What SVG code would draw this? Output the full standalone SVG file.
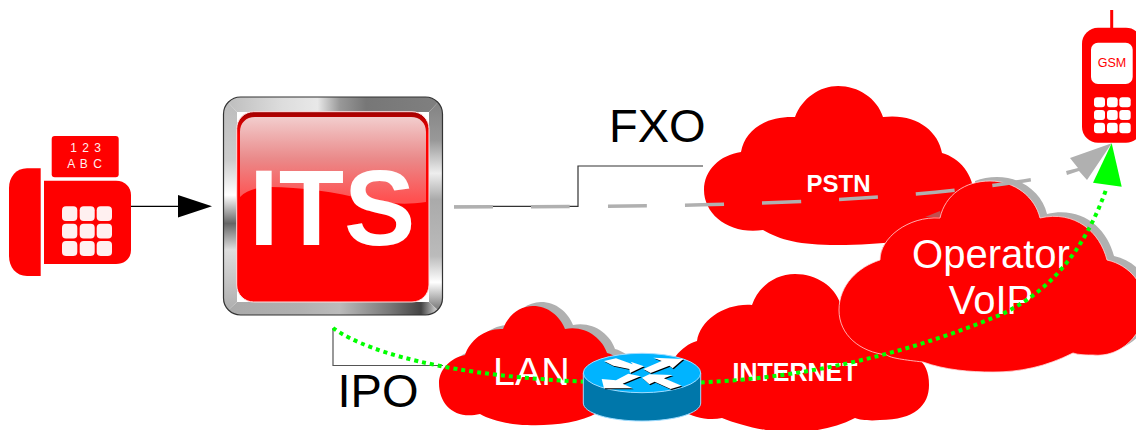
<svg xmlns="http://www.w3.org/2000/svg" xmlns:xlink="http://www.w3.org/1999/xlink" width="1136" height="430" viewBox="0 0 1136 430">
<style>
text{font-family:"Liberation Sans",Arial,sans-serif}
.red{fill:#ff0000}
.shadow{fill:#b0b0b0}
.wt{fill:#ffffff}
.bk{fill:#000000}
.key{fill:#fff0f0}
.thin{fill:none;stroke:#333333;stroke-width:1.2}
</style>
<defs>
<path id="lanShape" d="M439 383C439 370 450 358 465 355C470 340 485 328 503 329C508 315 520 306 533 306C548 306 560 316 565 329C585 325 602 338 607 353C625 358 635 375 630 392C625 405 610 415 597 413C580 423 550 426 527 425C510 425 490 420 480 414C455 420 439 405 439 383Z"/>
<path id="opShape" d="M839 310C839 285 858 267 880 260C880 238 908 216 940 218C945 195 965 181 990 181C1015 181 1035 197 1040 218C1075 210 1100 232 1107 260C1130 265 1145 285 1145 305C1145 335 1120 358 1093 355C1088 355 1078 355 1073 353C1045 367 1020 372 993 372C970 372 945 370 923 362C905 360 890 358 887 355C860 352 839 335 839 310Z"/>
<path id="routerArrows" d="M72 48L108 40L158 58L152 50L192 64L150 84L148 72L100 62ZM190 72L212 84L268 62L278 70L310 42L220 38L245 48ZM145 86L182 94L128 116L158 130L72 130L65 102L108 106ZM186 98L208 88L278 90L252 100L305 122L272 132L224 110L208 118Z"/>
<linearGradient id="fTop" gradientUnits="userSpaceOnUse" x1="223" y1="0" x2="443" y2="0">
<stop offset="0.04" stop-color="#c0c0c0"/><stop offset="0.27" stop-color="#dddddd"/><stop offset="0.43" stop-color="#e8e8e8"/><stop offset="0.53" stop-color="#999999"/><stop offset="0.65" stop-color="#777777"/><stop offset="1" stop-color="#808080"/>
</linearGradient>
<linearGradient id="fRight" gradientUnits="userSpaceOnUse" x1="0" y1="97" x2="0" y2="315">
<stop offset="0" stop-color="#808080"/><stop offset="0.2" stop-color="#999999"/><stop offset="0.35" stop-color="#eeeeee"/><stop offset="0.47" stop-color="#aaaaaa"/><stop offset="0.73" stop-color="#bbbbbb"/><stop offset="0.85" stop-color="#ffffff"/><stop offset="0.96" stop-color="#888888"/>
</linearGradient>
<linearGradient id="fBottom" gradientUnits="userSpaceOnUse" x1="223" y1="0" x2="443" y2="0">
<stop offset="0.03" stop-color="#aaaaaa"/><stop offset="0.35" stop-color="#b0b0b0"/><stop offset="0.53" stop-color="#bbbbbb"/><stop offset="0.76" stop-color="#777777"/><stop offset="0.9" stop-color="#444444"/><stop offset="0.96" stop-color="#bbbbbb"/><stop offset="1" stop-color="#eeeeee"/>
</linearGradient>
<linearGradient id="fLeft" gradientUnits="userSpaceOnUse" x1="0" y1="97" x2="0" y2="315">
<stop offset="0" stop-color="#bbbbbb"/><stop offset="0.29" stop-color="#cccccc"/><stop offset="0.45" stop-color="#ffffff"/><stop offset="0.58" stop-color="#666666"/><stop offset="0.7" stop-color="#dddddd"/><stop offset="1" stop-color="#aaaaaa"/>
</linearGradient>
<linearGradient id="btn" gradientUnits="userSpaceOnUse" x1="0" y1="112" x2="0" y2="135">
<stop offset="0" stop-color="#a00000"/><stop offset="0.3" stop-color="#c00000"/><stop offset="1" stop-color="#ff0000"/>
</linearGradient>
<linearGradient id="gloss" gradientUnits="userSpaceOnUse" x1="0" y1="117" x2="0" y2="200">
<stop offset="0" stop-color="#f2cdcd"/><stop offset="0.5" stop-color="#ea8a8a"/><stop offset="1" stop-color="#ff5050"/>
</linearGradient>
<clipPath id="frameClip"><rect x="223.5" y="97" width="219" height="218" rx="17"/></clipPath>
<clipPath id="opShadowClip"><rect x="975" y="170" width="161" height="200"/></clipPath>
</defs>

<g id="fax">
<path class="red" d="M40.700 168.300V276H27C16 276 9 267 9 256V188C9 177 16 168.300 27 168.300Z"/>
<path class="red" d="M44 180.700H116C125 180.700 131 187 131 195V250C131 258 125 264 116 264H44Z"/>
<rect class="red" x="51.700" y="136" width="67" height="41.300" rx="3"/>
<rect class="key" x="62" y="206.300" width="15.300" height="14.700" rx="4"/><rect class="key" x="79.700" y="206.300" width="15" height="14.700" rx="4"/><rect class="key" x="96.700" y="206.300" width="15.300" height="14.700" rx="4"/>
<rect class="key" x="62" y="223.700" width="15.300" height="14.700" rx="4"/><rect class="key" x="79.700" y="223.700" width="15" height="14.700" rx="4"/><rect class="key" x="96.700" y="223.700" width="15.300" height="14.700" rx="4"/>
<rect class="key" x="62" y="241" width="15.300" height="15" rx="4"/><rect class="key" x="79.700" y="241" width="15" height="15" rx="4"/><rect class="key" x="96.700" y="241" width="15.300" height="15" rx="4"/>
<text class="key" x="86" y="152" font-size="12" text-anchor="middle" letter-spacing="1">1 2 3</text>
<text class="key" x="85" y="167.500" font-size="12" text-anchor="middle" letter-spacing="1">A B C</text>
</g>

<g id="its">
<g clip-path="url(#frameClip)">
<polygon fill="url(#fTop)" points="223,97 443,97 429,112 237,112"/>
<polygon fill="url(#fRight)" points="443,97 443,315 429,302 429,112"/>
<polygon fill="url(#fBottom)" points="223,315 443,315 429,302 237,302"/>
<polygon fill="url(#fLeft)" points="223,97 223,315 237,302 237,112"/>
</g>
<rect class="thin" x="223.500" y="97" width="219" height="218" rx="17"/>
<rect x="236.700" y="111.700" width="192.300" height="190.300" rx="17" fill="url(#btn)" stroke="#ffe0e0" stroke-width="1"/>
<path fill="url(#gloss)" d="M240 197V132C240 123 246 117 255 117H411C420 117 426 123 426 132V202C400 206 385 202 367 200C335 192 300 187 270 187C258 187 247 190 240 197Z"/>
<text class="wt" x="249" y="245" font-size="107" font-weight="700">ITS</text>
</g>

<g id="pstn">
<path class="red" d="M704 190C704 170 720 155 741 152C745 130 765 116 795 117C802 98 820 86 838 86C858 86 877 98 883 117C915 113 938 130 942 153C960 158 975 175 974 200C970 225 930 245 837 245C800 245 780 240 763 230C730 235 704 215 704 190Z"/>
<text class="wt" x="838.500" y="192.300" font-size="24" font-weight="700" text-anchor="middle">PSTN</text>
</g>

<g id="internet">
<path class="red" d="M667 385C665 365 680 346 697 341C700 320 725 303 752 305C758 287 775 274 795 274C817 274 835 287 840 303C870 303 885 335 887 355C895 355 905 356 917 358C925 363 929 372 929 385C929 405 915 420 880 420C870 421 860 420 855 418C835 428 815 432 790 432C765 432 740 425 722 418C700 423 667 410 667 385Z"/>
<text class="wt" x="795" y="381" font-size="25" font-weight="700" text-anchor="middle">INTERNET</text>
</g>

<g id="operator">
<g clip-path="url(#opShadowClip)"><use xlink:href="#opShape" href="#opShape" class="shadow" transform="translate(7 -4)"/></g>
<polygon fill="#c05050" points="925,217 940,211 941,217"/>
<use xlink:href="#opShape" href="#opShape" class="red" stroke="#ffd8d8" stroke-width="0.8"/>
<text class="wt" x="991" y="268" font-size="40" text-anchor="middle">Operator</text>
<text class="wt" x="991" y="314" font-size="40" text-anchor="middle">VoIP</text>
</g>

<g id="lan">
<use xlink:href="#lanShape" href="#lanShape" class="shadow" transform="translate(8 -4)"/>
<use xlink:href="#lanShape" href="#lanShape" class="red"/>
<text class="wt" x="493" y="385" font-size="39.500">LAN</text>
</g>

<g id="labels">
<text class="bk" x="609" y="141.700" font-size="47">FXO</text>
<text class="bk" x="337.500" y="406.700" font-size="47">IPO</text>
</g>

<g id="connectors">
<path fill="none" stroke="#000000" stroke-width="1.300" d="M131 206.300H180"/>
<polygon class="bk" points="178,195 212,206.300 178,217.500"/>
<path fill="none" stroke="#333333" stroke-width="1.200" d="M454 206.300H578V166H703"/>
<path fill="none" stroke="#555555" stroke-width="1.200" d="M333 328V365.500H443"/>
<path fill="none" stroke="#b0b0b0" stroke-width="3.500" stroke-dasharray="39 38" d="M454 207C650 206 900 208 1066 173"/>
<polygon class="shadow" points="1111.700,143.300 1070,158 1078,168 1066,171 1067,175 1079,171 1087,180"/>
<path fill="none" stroke="#00ff00" stroke-width="4" stroke-dasharray="4 4" d="M333 328C370 355 470 382 640 383C760 386 880 365 1000 315C1050 292 1085 250 1107 187"/>
<polygon fill="#00ff00" points="1111.700,143.300 1093,182.700 1121.700,186.700"/>
</g>

<g id="router">
<path fill="#0077aa" stroke="#9fdcff" stroke-width="1" d="M583.300 373V403C583.300 413 609 421 642 421C675 421 700.700 413 700.700 403V373Z"/>
<ellipse cx="642" cy="373" rx="58.700" ry="19.700" fill="#00b4ff" stroke="#9fdcff" stroke-width="1"/>
<g transform="translate(580 345) scale(0.3333)">
<use xlink:href="#routerArrows" href="#routerArrows" class="bk" transform="translate(3 3)"/>
<use xlink:href="#routerArrows" href="#routerArrows" class="wt"/>
</g>
</g>

<g id="phone">
<rect class="red" x="1110.200" y="10" width="3" height="20"/>
<rect class="red" x="1082" y="27.700" width="60" height="115" rx="16"/>
<rect class="wt" x="1091" y="42.700" width="41.700" height="41.300" rx="7"/>
<text class="red" x="1112" y="66.700" font-size="12.500" text-anchor="middle">GSM</text>
<rect class="wt" x="1094" y="97.300" width="11" height="10" rx="3"/><rect class="wt" x="1107" y="97.300" width="10.700" height="10" rx="3"/><rect class="wt" x="1119.300" y="97.300" width="11.400" height="10" rx="3"/>
<rect class="wt" x="1094" y="110" width="11" height="10" rx="3"/><rect class="wt" x="1107" y="110" width="10.700" height="10" rx="3"/><rect class="wt" x="1119.300" y="110" width="11.400" height="10" rx="3"/>
<rect class="wt" x="1094" y="122.700" width="11" height="10.600" rx="3"/><rect class="wt" x="1107" y="122.700" width="10.700" height="10.600" rx="3"/><rect class="wt" x="1119.300" y="122.700" width="11.400" height="10.600" rx="3"/>
</g>
</svg>
